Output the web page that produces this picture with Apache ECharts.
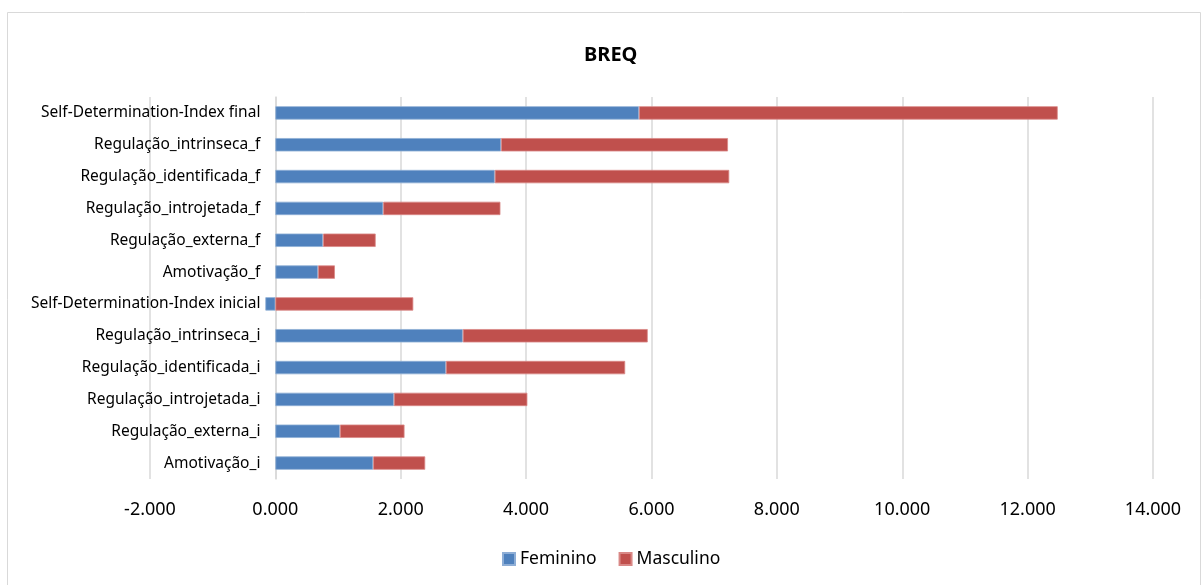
<!DOCTYPE html>
<html>
<head>
<meta charset="utf-8">
<title>BREQ</title>
<script src="https://cdn.jsdelivr.net/npm/echarts@6/dist/echarts.min.js"></script>
<style>
  html, body { margin: 0; padding: 0; background: #ffffff; }
  #chart { width: 1202px; height: 585px; }
</style>
</head>
<body>
<div id="chart"></div>
<script>
// Categories, listed top to bottom
const categories = [
  'Self-Determination-Index final',
  'Regulação_intrinseca_f',
  'Regulação_identificada_f',
  'Regulação_introjetada_f',
  'Regulação_externa_f',
  'Amotivação_f',
  'Self-Determination-Index inicial',
  'Regulação_intrinseca_i',
  'Regulação_identificada_i',
  'Regulação_introjetada_i',
  'Regulação_externa_i',
  'Amotivação_i'
];

// Mean scores per group (stacked)
const feminino  = [5.80, 3.60, 3.50, 1.72, 0.76, 0.68, -0.16, 2.99, 2.72, 1.89, 1.03, 1.56];
const masculino = [6.68, 3.62, 3.74, 1.87, 0.84, 0.27,  2.20, 2.95, 2.86, 2.13, 1.03, 0.83];

const seriesNames = ['Feminino', 'Masculino'];
const colors = ['#4F81BD', '#C0504D'];
const borders = ['#8eaed6', '#d98886'];

const font = '"Noto Sans", "Liberation Sans", sans-serif';

// plot area and value range
const gridLeft = 150, gridRight = 49;
const xMin = -2, xMax = 14;
const plotWidth = 1202 - gridLeft - gridRight;
// category labels sit beside the vertical axis, which crosses at x = 0
const zeroOffset = plotWidth * (0 - xMin) / (xMax - xMin);

const chart = echarts.init(document.getElementById('chart'), null, { renderer: 'canvas' });

chart.setOption({
  backgroundColor: '#ffffff',
  animation: false,
  title: {
    text: 'BREQ',
    left: 579,
    top: 40,
    textStyle: { fontFamily: font, fontSize: 20, fontWeight: 'bold', color: '#000000' }
  },
  graphic: [{
    type: 'rect',
    shape: { x: 7.5, y: 12.5, width: 1193, height: 580 },
    style: { fill: 'none', stroke: '#d9d9d9', lineWidth: 1 },
    silent: true
  }],
  legend: {
    bottom: 12,
    left: 497,
    itemWidth: 12,
    itemHeight: 12,
    itemGap: 22,
    icon: 'rect',
    textStyle: { fontFamily: font, fontSize: 17.5, color: '#000000' },
    data: seriesNames
  },
  grid: { left: gridLeft, right: gridRight, top: 97, bottom: 106, containLabel: false, outerBoundsMode: 'none' },
  xAxis: {
    type: 'value',
    min: xMin,
    max: xMax,
    interval: 2,
    axisLine: { show: false },
    axisTick: { show: false },
    axisLabel: {
      fontFamily: font,
      fontSize: 18,
      color: '#000000',
      margin: 22,
      formatter: v => v.toFixed(3)
    },
    splitLine: { show: true, lineStyle: { color: '#d9d9d9', width: 1.5 } }
  },
  yAxis: {
    type: 'category',
    inverse: true,
    data: categories,
    axisLine: { show: true, onZero: true, lineStyle: { color: '#d9d9d9', width: 1.5 } },
    axisTick: { show: false },
    axisLabel: {
      fontFamily: font,
      fontSize: 15.5,
      color: '#000000',
      margin: 15 - zeroOffset
    }
  },
  series: [
    {
      name: seriesNames[0],
      type: 'bar',
      stack: 'total',
      barWidth: '42%',
      data: feminino,
      itemStyle: { color: colors[0], borderColor: borders[0], borderWidth: 0.8 }
    },
    {
      name: seriesNames[1],
      type: 'bar',
      stack: 'total',
      barWidth: '42%',
      data: masculino,
      itemStyle: { color: colors[1], borderColor: borders[1], borderWidth: 0.8 }
    }
  ]
});
</script>
</body>
</html>
